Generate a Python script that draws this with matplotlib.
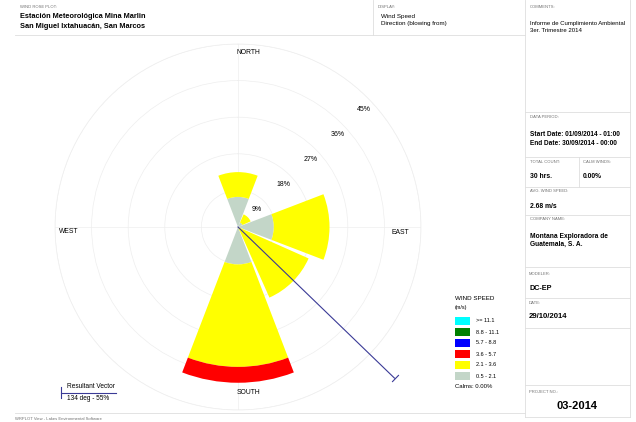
import numpy as np
import matplotlib
matplotlib.use('Agg')
import matplotlib.pyplot as plt
from matplotlib.lines import Line2D
from matplotlib.patches import Rectangle

plt.rcParams['font.family'] = ['Liberation Sans', 'DejaVu Sans']

# wind rose data (percent of hours)
directions = ['N', 'NE', 'E', 'SE', 'S']
dir_deg = [0, 45, 90, 135, 180]
freq_05_21 = [7.4, 1.2, 8.8, 0.0, 9.2]
freq_21_36 = [6.1, 2.2, 13.7, 19.0, 25.2]
freq_36_57 = [0.0, 0.0, 0.0, 0.0, 3.9]

speed_labels = ['>= 11.1', '8.8 - 11.1', '5.7 - 8.8', '3.6 - 5.7', '2.1 - 3.6', '0.5 - 2.1']
speed_colors = ['#00ffff', '#008000', '#0000ff', '#ff0000', '#ffff00', '#c3d6c8']

ring_values = [9, 18, 27, 36, 45]
vector_deg = 134
vector_pct = 53.5

W, H = 636, 422
fig = plt.figure(figsize=(6.36, 4.22), dpi=100)
line_gray = '#dedede'
small_gray = '#707070'
navy = '#3a3a96'


def fx(x):
    return x / W


def fy(y):
    return 1 - y / H


def label(x, y, s, size=4.2, weight='normal', color='black', ha='left', va='center'):
    fig.text(fx(x), fy(y), s, fontsize=size, fontweight=weight, color=color, ha=ha, va=va)


def hline(y, x0, x1, color=line_gray, lw=0.6):
    fig.add_artist(Line2D([fx(x0), fx(x1)], [fy(y), fy(y)], transform=fig.transFigure, color=color, lw=lw))


def vline(x, y0, y1, color=line_gray, lw=0.6):
    fig.add_artist(Line2D([fx(x), fx(x)], [fy(y0), fy(y1)], transform=fig.transFigure, color=color, lw=lw))


# polar axes for the rose
cx, cy, R = 238, 227, 183
ax = fig.add_axes([fx(cx - R), fy(cy + R), 2 * R / W, 2 * R / H], projection='polar')
ax.set_theta_zero_location('N')
ax.set_theta_direction(-1)
ax.set_ylim(0, 45)
ax.set_yticks(ring_values)
ax.set_yticklabels([])
ax.set_xticks(np.deg2rad([0, 90, 180, 270]))
ax.set_xticklabels([])
ax.grid(color='#eeeeee', lw=0.5)
ax.spines['polar'].set_color('#eeeeee')
ax.spines['polar'].set_linewidth(0.5)
ax.set_facecolor('none')

theta = np.deg2rad(dir_deg)
width = np.deg2rad(42)
bottom = np.zeros(len(directions))
for vals, col in [(freq_05_21, speed_colors[5]), (freq_21_36, speed_colors[4]), (freq_36_57, speed_colors[3])]:
    vals = np.array(vals)
    ax.bar(theta, vals, width=width, bottom=bottom, color=col, edgecolor='none', zorder=2)
    bottom += vals

# ring labels
for v in ring_values:
    ax.text(np.deg2rad(47), v - 2.6, f'{v}%', fontsize=5.0, ha='center', va='center', zorder=4)

# resultant vector
tv = np.deg2rad(vector_deg)
ax.plot([tv, tv], [0, vector_pct], color=navy, lw=0.8, zorder=3, clip_on=False)
ax.plot([tv], [vector_pct], marker=(2, 0, -(vector_deg - 90)), ms=7, mew=0.8, mec=navy,
        zorder=3, clip_on=False)

# compass labels
label(237, 53, 'NORTH', 4.9)
label(237, 393, 'SOUTH', 4.9)
label(59, 231, 'WEST', 4.9)
label(392, 232, 'EAST', 4.9)

# header
label(20, 6.5, 'WIND ROSE PLOT:', 3.0, color=small_gray)
label(20, 16.5, 'Estación Meteorológica Mina Marlin', 5.3, weight='bold')
label(20, 26.5, 'San Miguel Ixtahuacán, San Marcos', 5.3, weight='bold')
label(378, 6.5, 'DISPLAY:', 3.0, color=small_gray)
label(381, 16.5, 'Wind Speed', 4.5)
label(381, 24, 'Direction (blowing from)', 4.5)
hline(35, 15, 525)
vline(373, 0, 35)

# right column
label(530, 6.5, 'COMMENTS:', 3.0, color=small_gray)
label(530, 23, 'Informe de Cumplimiento Ambiental', 4.3)
label(530, 30, '3er. Trimestre 2014', 4.3)
label(530, 117, 'DATA PERIOD:', 3.0, color=small_gray)
label(530, 135, 'Start Date: 01/09/2014 - 01:00', 4.7, weight='bold')
label(530, 143.5, 'End Date: 30/09/2014 - 00:00', 4.7, weight='bold')
label(530, 162, 'TOTAL COUNT:', 3.0, color=small_gray)
label(583, 162, 'CALM WINDS:', 3.0, color=small_gray)
label(530, 176, '30 hrs.', 4.9, weight='bold')
label(583, 176, '0.00%', 4.9, weight='bold')
label(530, 191, 'AVG. WIND SPEED:', 3.0, color=small_gray)
label(530, 206, '2.68 m/s', 4.9, weight='bold')
label(530, 219.5, 'COMPANY NAME:', 3.0, color=small_gray)
label(530, 236, 'Montana Exploradora de', 4.8, weight='bold')
label(530, 244.5, 'Guatemala, S. A.', 4.8, weight='bold')
label(529, 274, 'MODELER:', 3.0, color=small_gray)
label(529, 288, 'DC-EP', 5.2, weight='bold')
label(529, 303, 'DATE:', 3.0, color=small_gray)
label(529, 317, '29/10/2014', 5.6, weight='bold')
label(529, 392, 'PROJECT NO.:', 3.0, color=small_gray)
label(577, 406, '03-2014', 8.0, weight='bold', ha='center')

vline(525, 0, 417)
vline(630, 0, 417)
for yy in [112, 156.5, 186.5, 215, 267, 298, 328, 385, 417]:
    hline(yy, 525, 630)
vline(579, 156.5, 186.5)
hline(413, 15, 525)
label(15, 419, 'WRPLOT View - Lakes Environmental Software', 3.0, color=small_gray)

# speed legend
label(455, 298, 'WIND SPEED', 4.5)
label(455, 307, '(m/s)', 4.0)
for i, (lab, col) in enumerate(zip(speed_labels, speed_colors)):
    yy = 321 + i * 11
    fig.add_artist(Rectangle((fx(455), fy(yy + 4)), 15 / W, 8 / H, transform=fig.transFigure,
                             facecolor=col, edgecolor='none'))
    label(476, yy, lab, 4.0)
label(455, 387, 'Calms: 0.00%', 4.3)

# resultant vector legend
hline(392.5, 61, 116, color=navy, lw=0.8)
vline(61, 387, 398, color=navy, lw=0.8)
label(67, 386.5, 'Resultant Vector', 4.7)
label(67, 398, '134 deg - 55%', 4.7)

fig.savefig('out.png', dpi=100)
